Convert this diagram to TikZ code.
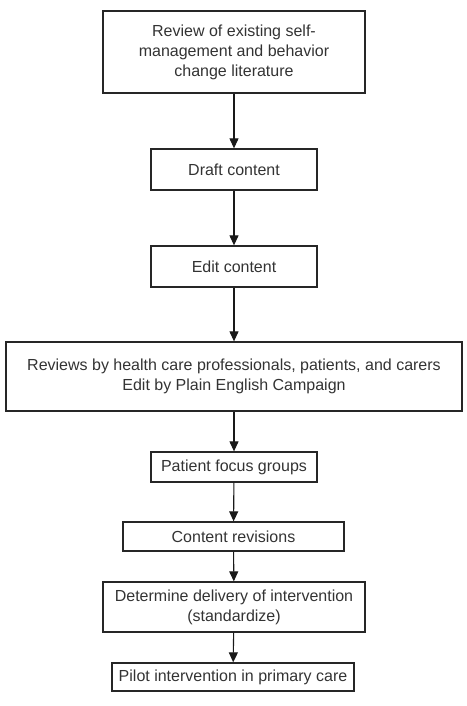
\documentclass[tikz,border=0pt]{standalone}
\usepackage{fontspec}
\setmainfont{Liberation Sans}
\usepackage{tikz}
\usetikzlibrary{arrows.meta,positioning}

\begin{document}
\begin{tikzpicture}[
  x=1pt, y=-1pt,
  stepbox/.style={rectangle, draw=black!85, line width=1.3pt, inner sep=0pt, align=center,
    text=black!80, font=\fontsize{16}{20}\selectfont},
  arrow/.style={-{Triangle[length=10pt,width=9pt]}, line width=1.1pt, black!90}
]
\useasboundingbox (0,0) rectangle (466,706);

\node[stepbox, minimum width=262pt, minimum height=82pt] (review) at (234,52) {Review of existing self-\\management and behavior\\change literature};
\node[stepbox, minimum width=166pt, minimum height=41pt] (draft) at (234,169.5) {Draft content};
\node[stepbox, minimum width=166pt, minimum height=41pt] (edit) at (234,266.5) {Edit content};
\node[stepbox, minimum width=456pt, minimum height=69pt] (reviews) at (234,376.5) {Reviews by health care professionals, patients, and carers\\Edit by Plain English Campaign};
\node[stepbox, minimum width=166pt, minimum height=30pt] (focus) at (234,467) {Patient focus groups};
\node[stepbox, minimum width=221pt, minimum height=29pt] (revise) at (233.5,536.5) {Content revisions};
\node[stepbox, minimum width=262pt, minimum height=50pt] (deliver) at (234,607) {Determine delivery of intervention\\(standardize)};
\node[stepbox, minimum width=242pt, minimum height=28pt] (pilot) at (233,677) {Pilot intervention in primary care};

\draw[arrow] (review) -- (draft);
\draw[arrow] (draft) -- (edit);
\draw[arrow] (edit) -- (reviews);
\draw[arrow] (reviews) -- (focus);
\draw[arrow] (focus) -- (revise);
\draw[arrow] (revise) -- (deliver);
\draw[arrow] (deliver) -- (pilot);

\end{tikzpicture}
\end{document}
